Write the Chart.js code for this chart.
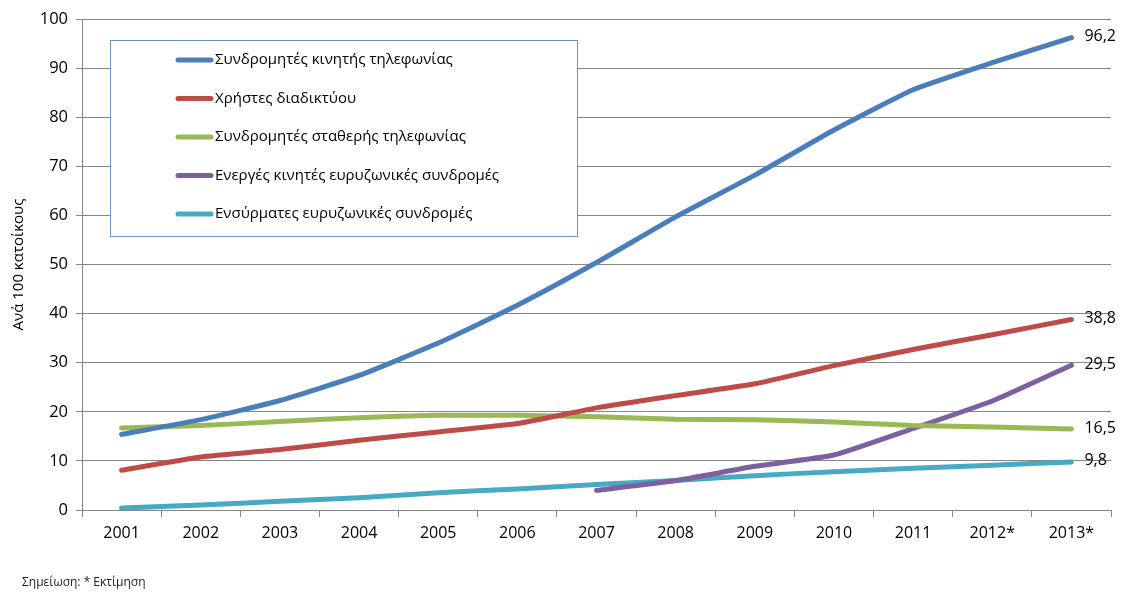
<!DOCTYPE html>
<html>
<head>
<meta charset="utf-8">
<script src="https://cdn.jsdelivr.net/npm/chart.js@4"></script>
<style>
    body { margin: 0; background: #fff; }
    #wrap { position: relative; width: 1124px; height: 593px; }
    #note { position: absolute; left: 22px; top: 573px; font: 12px "Open Sans", sans-serif; color: #222; }
</style>
</head>
<body>
<div id="wrap">
    <canvas id="lineChart" width="1124" height="593"></canvas>
    <div id="note">Σημείωση: * Εκτίμηση</div>
</div>
<script>
const years = ['2001', '2002', '2003', '2004', '2005', '2006', '2007', '2008', '2009', '2010', '2011', '2012*', '2013*'];

const mobileSubs = [15.4, 18.4, 22.3, 27.4, 34.0, 41.7, 50.4, 59.7, 68.2, 77.4, 85.6, 91.1, 96.2];
const internetUsers = [8.1, 10.8, 12.3, 14.2, 15.9, 17.6, 20.8, 23.3, 25.7, 29.4, 32.7, 35.7, 38.8];
const fixedSubs = [16.7, 17.2, 18.0, 18.8, 19.3, 19.3, 19.0, 18.5, 18.4, 17.9, 17.2, 16.9, 16.5];
const mobileBroadband = [null, null, null, null, null, null, 4.0, 6.0, 8.9, 11.2, 16.6, 22.2, 29.5];
const fixedBroadband = [0.4, 1.0, 1.8, 2.5, 3.5, 4.3, 5.2, 6.0, 7.0, 7.8, 8.5, 9.1, 9.8];

const endLabels = ['96,2', '38,8', '16,5', '29,5', '9,8'];

const FONT = '"Open Sans", "Noto Sans", sans-serif';

function makeSeries(label, data, color) {
    return {
        label: label,
        data: data,
        borderColor: color,
        backgroundColor: color,
        borderWidth: 5,
        borderCapStyle: 'round',
        pointRadius: 0,
        tension: 0.15,
        fill: false
    };
}

// legend box drawn inside the plot area
const boxLegend = {
    id: 'boxLegend',
    afterDraw(chart) {
        const ctx = chart.ctx;
        ctx.save();
        ctx.fillStyle = '#fff';
        ctx.fillRect(110.5, 40.5, 467, 196);
        ctx.strokeStyle = '#6f93c8';
        ctx.lineWidth = 1;
        ctx.strokeRect(110.5, 40.5, 467, 196);
        ctx.font = '15px ' + FONT;
        ctx.textBaseline = 'middle';
        chart.data.datasets.forEach((ds, i) => {
            const y = 60 + i * 38.5;
            ctx.strokeStyle = ds.borderColor;
            ctx.lineWidth = 5;
            ctx.lineCap = 'round';
            ctx.beginPath();
            ctx.moveTo(178, y);
            ctx.lineTo(211, y);
            ctx.stroke();
            ctx.fillStyle = '#000';
            ctx.fillText(ds.label, 215, y);
        });
        ctx.restore();
    }
};

// value labels at the end of each line
const endValues = {
    id: 'endValues',
    afterDatasetsDraw(chart) {
        const ctx = chart.ctx;
        ctx.save();
        ctx.font = '16px ' + FONT;
        ctx.fillStyle = '#000';
        ctx.textBaseline = 'middle';
        chart.data.datasets.forEach((ds, i) => {
            const meta = chart.getDatasetMeta(i);
            const pt = meta.data[meta.data.length - 1];
            ctx.fillText(endLabels[i], pt.x + 13, pt.y - 1);
        });
        ctx.restore();
    }
};

const ctx = document.getElementById('lineChart').getContext('2d');
new Chart(ctx, {
    type: 'line',
    data: {
        labels: years,
        datasets: [
            makeSeries('Συνδρομητές κινητής τηλεφωνίας', mobileSubs, '#4a7ebb'),
            makeSeries('Χρήστες διαδικτύου', internetUsers, '#be4b48'),
            makeSeries('Συνδρομητές σταθερής τηλεφωνίας', fixedSubs, '#98b954'),
            makeSeries('Ενεργές κινητές ευρυζωνικές συνδρομές', mobileBroadband, '#7d60a0'),
            makeSeries('Ενσύρματες ευρυζωνικές συνδρομές', fixedBroadband, '#46aac5')
        ]
    },
    options: {
        responsive: false,
        animation: false,
        layout: { padding: { top: 19, right: 13, bottom: 0, left: 0 } },
        plugins: {
            legend: { display: false },
            tooltip: { enabled: false }
        },
        scales: {
            x: {
                offset: true,
                grid: {
                    offset: true,
                    drawOnChartArea: false,
                    drawTicks: true,
                    tickLength: 7,
                    color: '#868686'
                },
                border: { color: '#868686' },
                ticks: { color: '#000', font: { family: FONT, size: 16 }, padding: 7, maxRotation: 0 },
                afterFit(scale) { scale.height = 83; }
            },
            y: {
                min: 0,
                max: 100,
                ticks: { stepSize: 10, color: '#000', font: { family: FONT, size: 16.5 }, padding: 8 },
                grid: { color: '#868686', tickLength: 6 },
                border: { color: '#868686' },
                title: {
                    display: true,
                    text: 'Ανά 100 κατοίκους',
                    color: '#000',
                    font: { family: FONT, size: 15 },
                    padding: { top: 10, bottom: 0 }
                },
                afterFit(scale) { scale.width = 82; }
            }
        }
    },
    plugins: [boxLegend, endValues]
});
</script>
</body>
</html>
